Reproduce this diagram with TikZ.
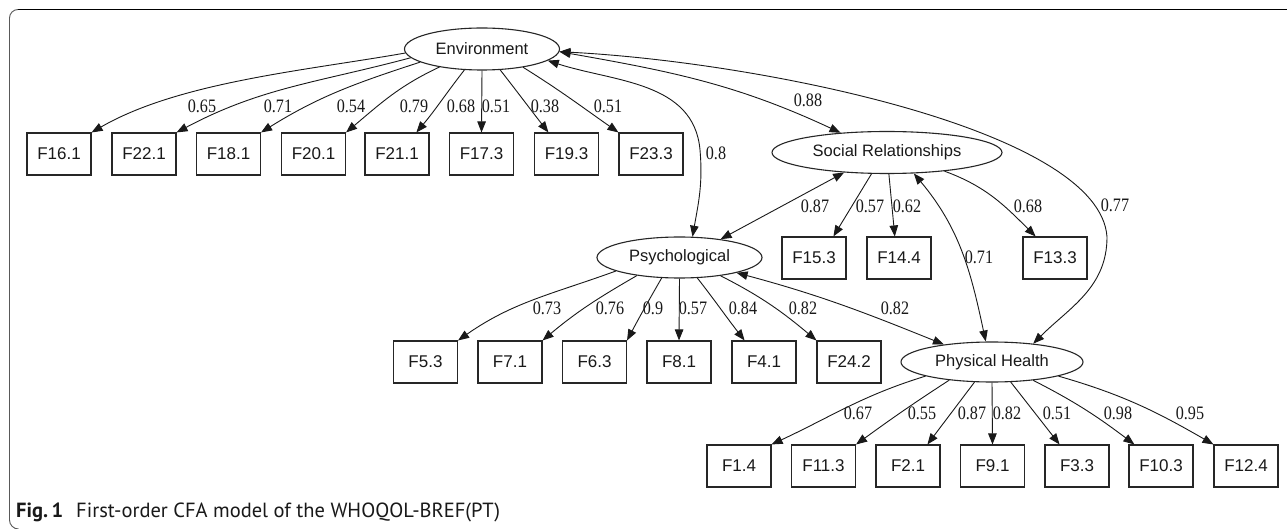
\documentclass[tikz,border=0pt]{standalone}
\usepackage{fontspec}
\usepackage{graphicx}
\setmainfont{Liberation Sans}
\newfontfamily\lblfam{Liberation Serif}
\newfontfamily\capfam{PT Sans}
\usetikzlibrary{arrows.meta,shapes.geometric}
\newcommand{\lb}[1]{\scalebox{0.85}[1]{#1}}
\tikzset{
 obs/.style={draw=black!85, line width=1.1pt, minimum width=64pt, minimum height=42pt, inner sep=0pt, font=\fontsize{17}{17}\selectfont, text=black!90},
 lat/.style={ellipse, draw=black!85, line width=1.1pt, inner sep=0pt, font=\fontsize{16.5}{16.5}\selectfont, text=black!90},
 lbl/.style={inner sep=0pt, font=\lblfam\fontsize{19}{19}\selectfont, text=black!90},
 arr/.style={-{Triangle[length=11pt,width=8.5pt]}, line width=0.9pt, draw=black!90},
 darr/.style={{Triangle[length=11pt,width=8.5pt]}-{Triangle[length=11pt,width=8.5pt]}, line width=0.9pt, draw=black!90},
}
\begin{document}
\begin{tikzpicture}[x=1pt,y=1pt]
\useasboundingbox (0,0) rectangle (1287,-529);
\fill[white] (0,0) rectangle (1287,-529);
% frame
\draw[line width=1.5pt, black] (1287,-9.5) -- (18,-9.5);
\draw[black!65, line width=0.9pt] (18,-9.5) arc[start angle=90,end angle=180,radius=8.5] -- (9.5,-520) arc[start angle=180,end angle=270,radius=9];
% latent variables
\node[lat, minimum width=155pt, minimum height=42pt] (env) at (482,-49) {Environment};
\node[lat, minimum width=230pt, minimum height=42pt] (soc) at (887,-152.5) {Social Relationships};
\node[lat, minimum width=165pt, minimum height=41pt] (psy) at (679.5,-257.5) {Psychological};
\node[lat, minimum width=182pt, minimum height=40pt] (phy) at (992,-362) {Physical Health};
% top row
\node[obs] (t161) at (59,-154) {F16.1};
\node[obs] (t221) at (144,-154) {F22.1};
\node[obs] (t181) at (228.5,-154) {F18.1};
\node[obs] (t201) at (313.5,-154) {F20.1};
\node[obs] (t211) at (397,-154) {F21.1};
\node[obs] (t173) at (481.5,-154) {F17.3};
\node[obs] (t193) at (566.5,-154) {F19.3};
\node[obs] (t233) at (651,-154) {F23.3};
% middle
\node[obs] (m153) at (814,-258) {F15.3};
\node[obs] (m144) at (899,-258) {F14.4};
\node[obs] (m133) at (1055,-258) {F13.3};
% psych row
\node[obs] (p53) at (425.5,-362) {F5.3};
\node[obs] (p71) at (510,-362) {F7.1};
\node[obs] (p63) at (594.5,-362) {F6.3};
\node[obs] (p81) at (679,-362) {F8.1};
\node[obs] (p41) at (764,-362) {F4.1};
\node[obs] (p242) at (849,-362) {F24.2};
% bottom row
\node[obs] (b14) at (739,-466) {F1.4};
\node[obs] (b113) at (823.5,-466) {F11.3};
\node[obs] (b21) at (908,-466) {F2.1};
\node[obs] (b91) at (992.5,-466) {F9.1};
\node[obs] (b33) at (1077,-466) {F3.3};
\node[obs] (b103) at (1161,-466) {F10.3};
\node[obs] (b124) at (1246,-466) {F12.4};
% waypoints
\coordinate (w1) at (700,-150);
\coordinate (w2) at (1107,-237);
% Environment loadings
\draw[arr] (env.183) to[out=190,in=30,looseness=.8] (t161.north east);
\draw[arr] (env.187) to[out=195,in=28] (t221.north east);
\draw[arr] (env.192) to[out=198,in=32] (t181.north east);
\draw[arr] (env.203) to[out=205,in=40] (t201.north east);
\draw[arr] (env.230) to[out=232,in=50] (t211.48);
\draw[arr] (env.south) -- (t173.north);
\draw[arr] (env.311) to[out=-52,in=128] (t193.130);
\draw[arr] (env.336) to[out=-32,in=145] (t233.north west);
% covariances
\draw[darr] (env.358) to[out=-10,in=155] (soc.157);
\draw[darr] (env.350) to[out=-18,in=95] (w1) to[out=-85,in=80] (psy.58);
\draw[darr] (env.358) .. controls (760,-62) and (1100,-130) .. (w2) to[out=-90,in=45] (phy.24);
\draw[darr] (soc.205) -- (psy.24);
\draw[darr] (soc.322) to[out=-50,in=102] (phy.107);
\draw[darr] (psy.345) to[out=-15,in=158] (phy.160);
% Social loadings
\draw[arr] (soc.234) -- (m153.48);
\draw[arr] (soc.275) -- (m144.101);
\draw[arr] (soc.342) to[out=-20,in=135] (m133.132);
% Psychological loadings
\draw[arr] (psy.192) to[out=200,in=35] (p53.north east);
\draw[arr] (psy.203) to[out=210,in=40] (p71.north east);
\draw[arr] (psy.229) to[out=240,in=62] (p63.north east);
\draw[arr] (psy.south) -- (p81.north);
\draw[arr] (psy.311) to[out=-52,in=128] (p41.132);
\draw[arr] (psy.336) to[out=-27,in=140] (p242.north west);
% Physical loadings
\draw[arr] (phy.192) to[out=197,in=25] (b14.north east);
\draw[arr] (phy.203) to[out=213,in=36] (b113.north east);
\draw[arr] (phy.229) -- (b21.48);
\draw[arr] (phy.south) -- (b91.north);
\draw[arr] (phy.313) -- (b33.129);
\draw[arr] (phy.336) to[out=-27,in=143] (b103.141);
\draw[arr] (phy.348) to[out=-16,in=150] (b124.north west);
% labels
\node[lbl] (l1) at (202,-106) {\lb{0.65}};
\node[lbl] (l2) at (278,-106) {\lb{0.71}};
\node[lbl] (l3) at (351,-106) {\lb{0.54}};
\node[lbl] (l4) at (414,-106) {\lb{0.79}};
\node[lbl] (l5) at (461,-106) {\lb{0.68}};
\node[lbl] (l6) at (496,-106) {\lb{0.51}};
\node[lbl] (l7) at (545,-106) {\lb{0.38}};
\node[lbl] (l8) at (608,-106) {\lb{0.51}};
\node[lbl] (l9) at (808,-100) {\lb{0.88}};
\node[lbl] (l10) at (716,-153) {\lb{0.8}};
\node[lbl] (l11) at (815,-206) {\lb{0.87}};
\node[lbl] (l12) at (870,-206) {\lb{0.57}};
\node[lbl] (l13) at (907,-206) {\lb{0.62}};
\node[lbl] (l14) at (1028,-206) {\lb{0.68}};
\node[lbl] (l15) at (1115,-205) {\lb{0.77}};
\node[lbl] (l16) at (979,-257) {\lb{0.71}};
\node[lbl] (l17) at (547,-308.5) {\lb{0.73}};
\node[lbl] (l18) at (610,-308.5) {\lb{0.76}};
\node[lbl] (l19) at (653,-308.5) {\lb{0.9}};
\node[lbl] (l20) at (693,-308.5) {\lb{0.57}};
\node[lbl] (l21) at (743,-308.5) {\lb{0.84}};
\node[lbl] (l22) at (803,-308.5) {\lb{0.82}};
\node[lbl] (l23) at (895,-308.5) {\lb{0.82}};
\node[lbl] (l24) at (858,-413.5) {\lb{0.67}};
\node[lbl] (l25) at (922,-413.5) {\lb{0.55}};
\node[lbl] (l26) at (972,-413.5) {\lb{0.87}};
\node[lbl] (l27) at (1007,-413.5) {\lb{0.82}};
\node[lbl] (l28) at (1057,-413.5) {\lb{0.51}};
\node[lbl] (l29) at (1118,-413.5) {\lb{0.98}};
\node[lbl] (l30) at (1190,-413.5) {\lb{0.95}};
% caption
\node[anchor=base west, inner sep=0pt, font=\capfam\fontsize{20.5}{20.5}\selectfont, text=black!90] (cap) at (16,-517) {\textbf{Fig.\,1}\hspace{13pt}First-order CFA model of the WHOQOL-BREF(PT)};
\end{tikzpicture}
\end{document}
